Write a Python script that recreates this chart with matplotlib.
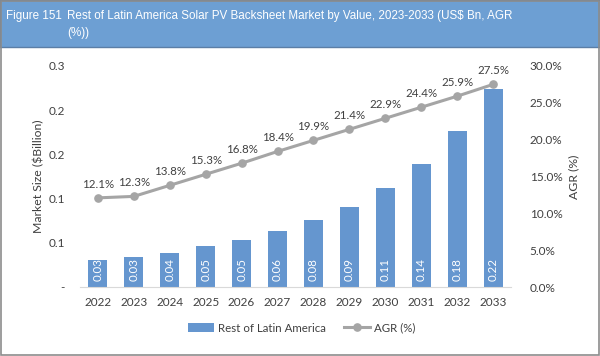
#!/usr/bin/env python3
"""Rest of Latin America solar PV backsheet market: bars + AGR line."""

import matplotlib

matplotlib.use("Agg")
import matplotlib.pyplot as plt
from matplotlib.patches import Rectangle

years = ["2022", "2023", "2024", "2025", "2026", "2027",
         "2028", "2029", "2030", "2031", "2032", "2033"]
market_bn = [0.031, 0.034, 0.039, 0.046, 0.053, 0.063,
             0.076, 0.091, 0.112, 0.139, 0.176, 0.224]
agr_pct = [12.1, 12.3, 13.8, 15.3, 16.8, 18.4, 19.9, 21.4, 22.9, 24.4, 25.9, 27.5]
left_ticks = [0.0, 0.05, 0.10, 0.15, 0.20, 0.25]
left_labels = ["-", "0.1", "0.1", "0.2", "0.2", "0.3"]
right_ticks = [0, 5, 10, 15, 20, 25, 30]

BAR = "#6596cf"
LINE = "#a5a5a5"
TXT = "#404040"

plt.rcParams["font.family"] = ["Lato", "DejaVu Sans"]

fig = plt.figure(figsize=(6.0, 3.56), dpi=100)

# title bar
fig.patches.append(Rectangle((0.0, 1 - 47 / 356), 1.0, 47 / 356, transform=fig.transFigure,
                             facecolor="#6d9fd3", edgecolor="#5b7ea6", lw=1.0, zorder=0))
title_kw = dict(color="white", fontsize=8.4, family="Liberation Sans", va="center", ha="left")
fig.text(6 / 600, 1 - 16 / 356, "Figure 151", fontstretch="condensed", **title_kw)
fig.text(67 / 600, 1 - 16 / 356,
         "Rest of Latin America Solar PV Backsheet Market by Value, 2023-2033 (US$ Bn, AGR",
         **title_kw)
fig.text(67 / 600, 1 - 33 / 356, "(%))", **title_kw)

# outer frame
fig.patches.append(Rectangle((0.001, 0.002), 0.997, 0.996, transform=fig.transFigure,
                             facecolor="none", edgecolor="#8c8c8c", lw=1.2, zorder=5))

ax = fig.add_axes([80 / 600, 1 - 287 / 356, 431 / 600, 221 / 356])
x = list(range(len(years)))
bars = ax.bar(x, market_bn, width=0.53, color=BAR, label="Rest of Latin America", zorder=2)
for xi, v in zip(x, market_bn):
    ax.text(xi, 0.007, f"{v:.2f}", rotation=90, color="white", fontsize=8.3,
            ha="center", va="bottom", zorder=3)

ax.set_xlim(-0.5, len(years) - 0.5)
ax.set_ylim(0, 0.25)
ax.set_xticks(x)
ax.set_xticklabels(years, fontsize=8.5, color=TXT)
ax.set_yticks(left_ticks)
ax.set_yticklabels(left_labels, fontsize=8.5, color=TXT)
ax.tick_params(axis="x", length=0, pad=7)
ax.tick_params(axis="y", length=0, pad=11)
for side in ("top", "right", "left"):
    ax.spines[side].set_visible(False)
ax.spines["bottom"].set_color("#d9d9d9")
ax.set_ylabel("Market Size ($Billion)", fontsize=8.8, color=TXT, labelpad=3)

ax2 = ax.twinx()
line, = ax2.plot(x, agr_pct, color=LINE, lw=2.2, marker="o", ms=5.2, label="AGR (%)", zorder=4)
for xi, v in zip(x, agr_pct):
    ax2.annotate(f"{v:.1f}%", (xi, v), xytext=(0, 6), textcoords="offset points",
                 ha="center", va="bottom", fontsize=8.3, color=TXT)
ax2.set_ylim(0, 30)
ax2.set_yticks(right_ticks)
ax2.set_yticklabels([f"{t:.1f}%" for t in right_ticks], fontsize=8.5, color=TXT)
ax2.tick_params(axis="y", length=0, pad=13.5)
for side in ("top", "right", "left", "bottom"):
    ax2.spines[side].set_visible(False)
ax2.set_ylabel("AGR (%)", fontsize=8.8, color=TXT, labelpad=4)

fig.legend(handles=[bars, line], loc="center", bbox_to_anchor=(302 / 600, 1 - 328 / 356),
           ncol=2, frameon=False, fontsize=8.3, handlelength=2.2, columnspacing=1.6,
           handletextpad=0.4, labelcolor=TXT)

fig.savefig("out.png", dpi=100)
